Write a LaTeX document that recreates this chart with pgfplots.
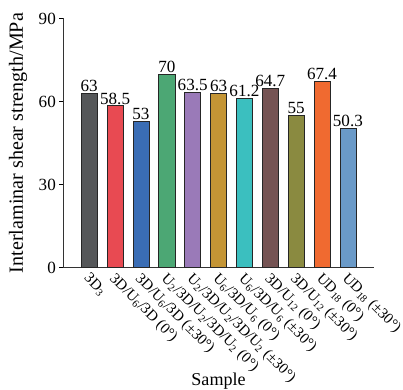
\documentclass[border=0pt]{standalone}
\usepackage{fontspec}
\setmainfont{Liberation Serif}
\usepackage{pgfplots}
\pgfplotsset{compat=1.18}
\definecolor{c1}{HTML}{555759}
\definecolor{c2}{HTML}{E84A52}
\definecolor{c3}{HTML}{3A6DB5}
\definecolor{c4}{HTML}{4CA774}
\definecolor{c5}{HTML}{9A7AB8}
\definecolor{c6}{HTML}{C49535}
\definecolor{c7}{HTML}{3BBFBF}
\definecolor{c8}{HTML}{755353}
\definecolor{c9}{HTML}{8A8A40}
\definecolor{c10}{HTML}{F06A30}
\definecolor{c11}{HTML}{6A9AC8}
\begin{document}
\begin{tikzpicture}
\begin{axis}[
  scale only axis, width=309pt, height=248pt,
  xmin=-1, xmax=11, ymin=0, ymax=90,
  ytick={0,30,60,90},
  axis x line=bottom, axis y line=left,
  axis line style={-, line width=1pt, draw=black!80},
  tick align=outside,
  major tick length=4pt,
  ytick style={black, line width=0.8pt},
  xtick={0,...,10},
  xtick style={draw=none},
  xticklabels={3D\textsubscript{3},
    3D/U\textsubscript{6}/3D (0°),
    3D/U\textsubscript{6}/3D (±30°),
    U\textsubscript{2}/3D/U\textsubscript{2}/3D/U\textsubscript{2} (0°),
    U\textsubscript{2}/3D/U\textsubscript{2}/3D/U\textsubscript{2} (±30°),
    U\textsubscript{6}/3D/U\textsubscript{6} (0°),
    U\textsubscript{6}/3D/U\textsubscript{6} (±30°),
    3D/U\textsubscript{12} (0°),
    3D/U\textsubscript{12} (±30°),
    UD\textsubscript{18} (0°),
    UD\textsubscript{18} (±30°)},
  x tick label style={rotate=-45, anchor=north west, font=\fontsize{15}{15}\selectfont, inner sep=0pt, xshift=1pt, yshift=1pt},
  y tick label style={font=\fontsize{17}{17}\selectfont},
  /pgf/number format/assume math mode=true,
  ylabel={Interlaminar shear strength/MPa},
  ylabel style={font=\fontsize{20}{20}\selectfont, at={([xshift=-45pt]axis description cs:0,0.5)}, anchor=center, inner xsep=13pt, inner ysep=9pt},
  xlabel={Sample},
  xlabel style={font=\fontsize{18}{18}\selectfont, at={([yshift=-117pt]axis description cs:0.5,0)}, anchor=base, inner sep=1pt},
  ybar, bar width=16pt,
  every axis plot/.append style={bar shift=0pt, draw=black!85, line width=0.6pt},
  nodes near coords,
  every node near coord/.append style={font=\fontsize{17}{17}\selectfont, inner sep=1pt, black},
]
\addplot[fill=c1] coordinates {(0,63)};
\addplot[fill=c2] coordinates {(1,58.5)};
\addplot[fill=c3] coordinates {(2,53)};
\addplot[fill=c4] coordinates {(3,70)};
\addplot[fill=c5] coordinates {(4,63.5)};
\addplot[fill=c6] coordinates {(5,63)};
\addplot[fill=c7] coordinates {(6,61.2)};
\addplot[fill=c8] coordinates {(7,64.7)};
\addplot[fill=c9] coordinates {(8,55)};
\addplot[fill=c10] coordinates {(9,67.4)};
\addplot[fill=c11] coordinates {(10,50.3)};
\end{axis}
\end{tikzpicture}
\end{document}
